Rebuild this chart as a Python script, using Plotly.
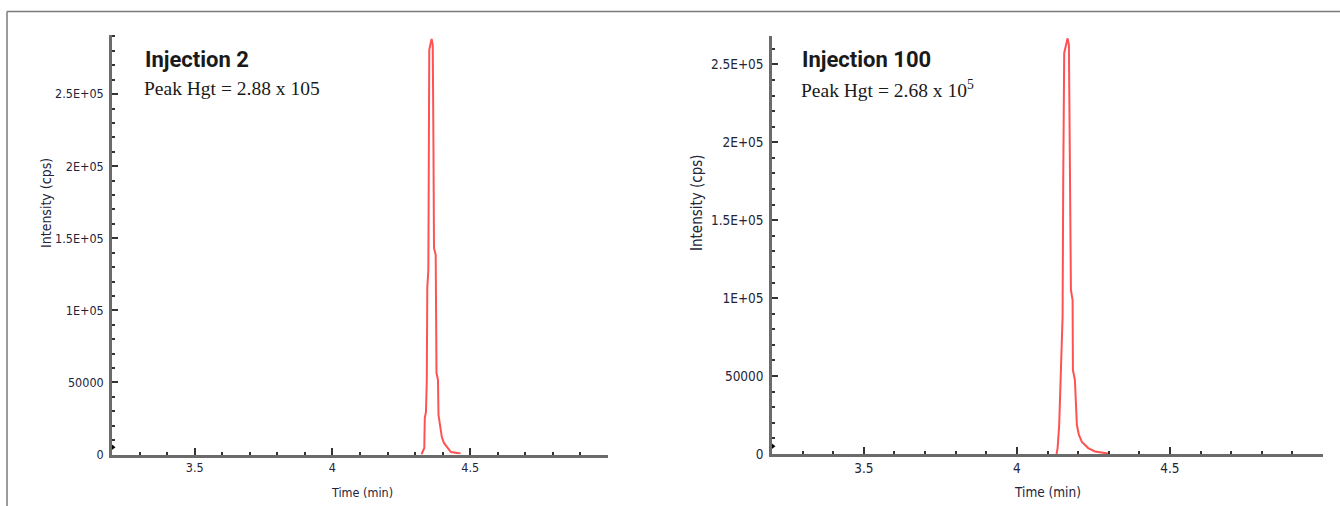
import plotly.graph_objects as go

# ---- data ----
inj2_time = [4.323, 4.3333, 4.3351, 4.3394, 4.3424, 4.3442, 4.348, 4.349, 4.3514, 4.3598,
             4.364, 4.3667, 4.3685, 4.3747, 4.3776, 4.383, 4.3848, 4.3903, 4.397, 4.4046,
             4.4166, 4.43, 4.465]
inj2_int = [0, 4500, 25300, 29500, 51700, 115600, 128000, 209300, 280800, 288200,
            284200, 211400, 143300, 138500, 56600, 51700, 27400, 20500, 12100, 8000,
            5200, 1700, 700]

inj100_time = [4.1297, 4.133, 4.1382, 4.1438, 4.1493, 4.1513, 4.1546, 4.1657, 4.17, 4.1716,
               4.1748, 4.1765, 4.182, 4.183, 4.1895, 4.193, 4.196, 4.2026, 4.2124, 4.233,
               4.255, 4.2984]
inj100_int = [0, 3800, 18600, 48800, 88100, 172600, 257300, 266700, 262400, 222800,
              161000, 105200, 98800, 53900, 47500, 26900, 18600, 12200, 7700, 3800,
              1600, 300]

x_tickvals = [3.5, 4, 4.5]
x_ticktext = ["3.5", "4", "4.5"]
y_tickvals = [0, 50000, 100000, 150000, 200000, 250000]
y_ticktext = ["0", "50000", "1E+05", "1.5E+05", "2E+05", "2.5E+05"]

panel_titles = ["Injection 2", "Injection 100"]
panel_subtitles = ["Peak Hgt = 2.88 x 105", "Peak Hgt = 2.68 x 10<sup>5</sup>"]

W, H = 1340, 506
def px_x(p): return p / W
def px_y(p): return 1 - p / H

TICK_FAMILY = "Liberation Sans Narrow, DejaVu Sans Condensed, Roboto"
TICK_COLOR = "#23243a"
LINE = "#ff5252"

def tfont(size):
    return dict(family=TICK_FAMILY, size=size, color=TICK_COLOR)

fig = go.Figure()
fig.add_trace(go.Scatter(x=inj2_time, y=inj2_int, mode="lines", line=dict(color=LINE, width=2),
                         xaxis="x", yaxis="y", showlegend=False))
fig.add_trace(go.Scatter(x=inj100_time, y=inj100_int, mode="lines", line=dict(color=LINE, width=2),
                         xaxis="x2", yaxis="y2", showlegend=False))
# small start markers on the y axes
for xa, ya, yv in (("x", "y", 5000), ("x2", "y2", 5000)):
    fig.add_trace(go.Scatter(x=[3.2], y=[yv], mode="markers", xaxis=xa, yaxis=ya, showlegend=False,
                             marker=dict(symbol="triangle-right", size=7, color="black"), cliponaxis=False))

def xaxis(domain, anchor, fs):
    return dict(domain=domain, anchor=anchor, range=[3.2, 5.0], tickvals=x_tickvals, ticktext=x_ticktext,
                ticks="inside", ticklen=7, tickwidth=1.5, tickcolor="#333",
                minor=dict(dtick=0.1, tick0=3.2, ticks="inside", ticklen=3, tickwidth=1.5, tickcolor="#333"),
                showline=True, linecolor="#6b6b6b", linewidth=2.5, showgrid=False, zeroline=False,
                tickfont=tfont(fs), automargin=False, fixedrange=True)

def yaxis(domain, anchor, top, fs):
    return dict(domain=domain, anchor=anchor, range=[0, top], tickvals=y_tickvals, ticktext=y_ticktext,
                ticks="inside", ticklen=6, tickwidth=1.5, tickcolor="#333",
                minor=dict(dtick=10000, tick0=0, ticks="inside", ticklen=3, tickwidth=1.5, tickcolor="#333"),
                showline=True, linecolor="#6b6b6b", linewidth=2.5, showgrid=False, zeroline=False,
                tickfont=tfont(fs), automargin=False, fixedrange=True, ticklabelstandoff=3)

fig.update_layout(
    width=W, height=H, margin=dict(l=0, r=0, t=0, b=0),
    paper_bgcolor="white", plot_bgcolor="white",
    xaxis=xaxis([px_x(112), px_x(608)], "y", 12.5),
    yaxis=yaxis([px_y(454.5), px_y(35)], "x", 291000, 12.5),
    xaxis2=xaxis([px_x(772), px_x(1323)], "y2", 13.5),
    yaxis2=yaxis([px_y(454), px_y(36)], "x2", 268200, 13.5),
)

ann = []
panels = [(145, 46, 362, 12.5, 14), (802, 697, 1047, 13.5, 15)]
for i, (x0, ytx, xtx, fs, yfs) in enumerate(panels):
    ann.append(dict(x=px_x(x0 - 2), y=px_y(59), xref="paper", yref="paper", xanchor="left", yanchor="middle",
                    text="<b>" + panel_titles[i] + "</b>", showarrow=False,
                    font=dict(family="Roboto", size=22, color="#1a1a1a")))
    ann.append(dict(x=px_x(x0 - 3), y=px_y(88.5), xref="paper", yref="paper", xanchor="left", yanchor="middle",
                    text=panel_subtitles[i], showarrow=False,
                    font=dict(family="Liberation Serif", size=19.5, color="#1a1a1a")))
    ann.append(dict(x=px_x(ytx), y=px_y(203), xref="paper", yref="paper", xanchor="center", yanchor="middle",
                    text="Intensity (cps)", textangle=-90, showarrow=False, font=tfont(yfs)))
    ann.append(dict(x=px_x(xtx), y=px_y(492), xref="paper", yref="paper", xanchor="center", yanchor="middle",
                    text="Time (min)", showarrow=False, font=tfont(fs)))
fig.update_layout(annotations=ann)

# outer frame lines
fig.add_shape(type="line", xref="paper", yref="paper", x0=px_x(7), x1=1, y0=px_y(11.5), y1=px_y(11.5),
              line=dict(color="#7a7a7a", width=1.5))
fig.add_shape(type="line", xref="paper", yref="paper", x0=px_x(7), x1=px_x(7), y0=px_y(11.5), y1=0,
              line=dict(color="#7a7a7a", width=1.5))

fig.write_html("out.html", config={"displayModeBar": False},
               post_script="document.body.style.margin='0';document.body.style.overflow='hidden';")
